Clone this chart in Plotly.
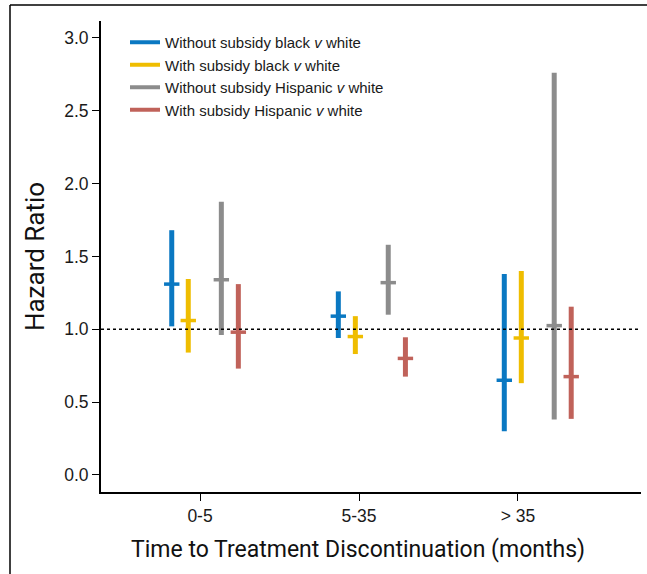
import plotly.graph_objects as go

categories = ["0-5", "5-35", "> 35"]
series_names = [
    "Without subsidy black <i>v</i> white",
    "With subsidy black <i>v</i> white",
    "Without subsidy Hispanic <i>v</i> white",
    "With subsidy Hispanic <i>v</i> white",
]
colors = ["#0a78c2", "#efbd00", "#8c8c8c", "#c0625a"]

# x positions of each series' bars, in category units (0, 1, 2 = tick positions)
x_blue = [-0.178, 0.870, 1.914]
x_yellow = [-0.074, 0.977, 2.021]
x_gray = [0.134, 1.184, 2.228]
x_red = [0.241, 1.292, 2.335]

# hazard ratio estimates and 95% CI
hr_blue = [1.31, 1.09, 0.65]
lo_blue = [1.02, 0.94, 0.30]
hi_blue = [1.68, 1.26, 1.38]

hr_yellow = [1.06, 0.95, 0.94]
lo_yellow = [0.84, 0.83, 0.63]
hi_yellow = [1.345, 1.09, 1.40]

hr_gray = [1.34, 1.32, 1.025]
lo_gray = [0.96, 1.10, 0.38]
hi_gray = [1.875, 1.58, 2.76]

hr_red = [0.98, 0.80, 0.675]
lo_red = [0.73, 0.675, 0.385]
hi_red = [1.31, 0.945, 1.155]

y_ticks = [0.0, 0.5, 1.0, 1.5, 2.0, 2.5, 3.0]

xs = [x_blue, x_yellow, x_gray, x_red]
hrs = [hr_blue, hr_yellow, hr_gray, hr_red]
los = [lo_blue, lo_yellow, lo_gray, lo_red]
his = [hi_blue, hi_yellow, hi_gray, hi_red]

fig = go.Figure()

# reference line at HR = 1
fig.add_shape(type="line", xref="paper", yref="y", x0=0, x1=1, y0=1, y1=1,
              line=dict(color="black", width=1.6, dash="dot"))

for name, c, x, hr, lo, hi in zip(series_names, colors, xs, hrs, los, his):
    fig.add_trace(go.Scatter(
        x=x, y=hr, mode="markers", showlegend=False, legendgroup=name,
        marker=dict(symbol="line-ew", size=11, color=c, line=dict(color=c, width=3.5)),
        error_y=dict(type="data", symmetric=False,
                     array=[h - v for h, v in zip(hi, hr)],
                     arrayminus=[v - l for v, l in zip(hr, lo)],
                     color=c, thickness=5, width=0),
    ))
    fig.add_trace(go.Scatter(
        x=[None], y=[None], mode="lines", name=name, legendgroup=name,
        line=dict(color=c, width=4),
    ))

# outer frame (partial box of the original figure)
W, H = 647, 574
l, r, t, b = 101, 6, 21, 82
pw, ph = W - l - r, H - t - b
def px(xp):
    return (xp - l) / pw
def py(yp):
    return (H - b - yp) / ph
fig.add_shape(type="line", xref="paper", yref="paper",
              x0=px(10), x1=px(10), y0=py(5), y1=py(H + 5),
              line=dict(color="black", width=1.5))
fig.add_shape(type="line", xref="paper", yref="paper",
              x0=px(10), x1=px(W + 5), y0=py(5), y1=py(5),
              line=dict(color="black", width=1.5))

# x-axis title (centred under the tick labels as in the original)
fig.add_annotation(text="Time to Treatment Discontinuation (months)",
                   xref="paper", yref="paper", x=px(358), y=py(549),
                   xanchor="center", yanchor="middle", showarrow=False,
                   font=dict(family="Roboto", size=23, color="#111"))

fig.update_layout(
    width=W, height=H,
    margin=dict(l=l, r=r, t=t, b=b),
    paper_bgcolor="white", plot_bgcolor="white",
    font=dict(family="Arial", size=15, color="#1a1a1a"),
    showlegend=True,
    legend=dict(x=px(125), y=py(26), xanchor="left", yanchor="top",
                bgcolor="rgba(0,0,0,0)", font=dict(family="Arial", size=15), tracegroupgap=0),
    xaxis=dict(
        range=[-0.623, 2.774], tickmode="array", tickvals=[0, 1, 2], ticktext=categories,
        showgrid=False, zeroline=False, showline=True, linecolor="black", linewidth=2,
        ticks="outside", ticklen=7, tickwidth=1.2, tickcolor="black",
        tickfont=dict(family="Arial", size=17.5),
    ),
    yaxis=dict(
        range=[-0.117, 3.116], tickmode="array", tickvals=y_ticks,
        ticktext=[f"{v:.1f}" for v in y_ticks],
        showgrid=False, zeroline=False, showline=True, linecolor="black", linewidth=2,
        ticks="outside", ticklen=7, tickwidth=1.2, tickcolor="black",
        tickfont=dict(family="Arial", size=17.5),
        title=dict(text="Hazard Ratio", font=dict(family="Roboto", size=26, color="#111"),
                   standoff=12),
    ),
)

fig.write_html("out.html")
